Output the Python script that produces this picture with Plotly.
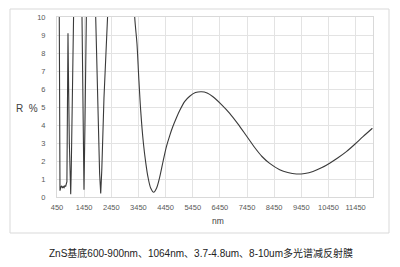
import plotly.graph_objects as go

# wavelength (nm) and reflectance (%)
wavelength = [480, 525, 545, 560, 590, 620, 650, 680, 710, 740, 770, 800, 815, 835, 855, 870, 905, 935, 955,
              975, 1010, 1065, 1100, 1250, 1371, 1410, 1444, 1480, 1533, 1700, 1875, 1960, 2020, 2060, 2100,
              2180, 2269, 2500, 2900, 3200, 3312, 3397, 3459, 3533, 3632, 3720, 3802, 3900, 4012, 4120, 4233,
              4360, 4480, 4600, 4714, 4850, 4969, 5150, 5338, 5550, 5769, 5980, 6196, 6500, 6811, 7120, 7426,
              7732, 8000, 8284, 8652, 8950, 9268, 9580, 9879, 10190, 10494, 10800, 11109, 11420, 11721, 12067]
reflectance = [30, 10.5, 2, 0.35, 0.55, 0.62, 0.5, 0.58, 0.52, 0.62, 0.6, 0.78, 0.85, 5, 9.1, 7, 3, 0.6, 0.15,
               1.5, 5.5, 10.5, 25, 30, 10, 4, 0.4, 4, 10, 30, 10, 4.5, 1.3, 0.2, 1.5,
               5.5, 10, 30, 30, 15, 10, 8.5, 6.7, 4.8, 3.0, 1.9, 1.1, 0.5, 0.26, 0.5, 1.1,
               2.0, 2.8, 3.4, 3.9, 4.4, 4.8, 5.3, 5.6, 5.8, 5.85, 5.78, 5.57, 5.15, 4.65, 4.05, 3.4,
               2.75, 2.25, 1.87, 1.52, 1.36, 1.28, 1.31, 1.42, 1.62, 1.88, 2.18, 2.52, 2.93, 3.35, 3.82]

x_ticks = [450, 1450, 2450, 3450, 4450, 5450, 6450, 7450, 8450, 9450, 10450, 11450]
y_ticks = [0, 1, 2, 3, 4, 5, 6, 7, 8, 9, 10]

caption = "ZnS基底600-900nm、1064nm、3.7-4.8um、8-10um多光谱减反射膜"

W, H = 400, 267
L, R, T, B = 57, 27, 17, 70
pw, ph = W - L - R, H - T - B

# split: sharp narrow-band part drawn linear, broad IR part drawn smooth
split = wavelength.index(3200)

fig = go.Figure()
fig.add_trace(go.Scatter(x=wavelength[:split + 1], y=reflectance[:split + 1], mode="lines",
                         line=dict(color="#3a3a3a", width=1.1), hoverinfo="skip"))
fig.add_trace(go.Scatter(x=wavelength[split:], y=reflectance[split:], mode="lines",
                         line=dict(color="#3a3a3a", width=1.1, shape="spline", smoothing=0.8),
                         hoverinfo="skip"))

grid = "#e3e3e3"
fig.update_layout(
    width=W, height=H, margin=dict(l=L, r=R, t=T, b=B),
    paper_bgcolor="white", plot_bgcolor="white", showlegend=False,
    font=dict(family="Liberation Sans, Arial, sans-serif", color="#595959"),
    xaxis=dict(range=[450, 12090], tickvals=x_ticks, ticktext=[str(v) for v in x_ticks],
               showgrid=True, gridcolor=grid, gridwidth=1, zeroline=False,
               showline=True, linecolor="#d9d9d9", linewidth=1, mirror=True,
               ticks="", tickfont=dict(size=7.5, color="#595959"), ticklabelstandoff=3),
    yaxis=dict(range=[0, 10], tickvals=y_ticks,
               showgrid=True, gridcolor=grid, gridwidth=1, zeroline=False,
               showline=True, linecolor="#d9d9d9", linewidth=1, mirror=True,
               ticks="", tickfont=dict(size=7.5, color="#595959"), ticklabelstandoff=9),
)

def px(xp):
    return (xp - L) / pw

def py(yp):
    return (H - B - yp) / ph

# outer chart frame
fig.add_shape(type="rect", xref="paper", yref="paper",
              x0=px(10), x1=px(389), y0=py(233), y1=py(9),
              line=dict(color="#d9d9d9", width=1), fillcolor="rgba(0,0,0,0)", layer="below")

fig.add_annotation(text="R  %", xref="paper", yref="paper", x=px(27), y=py(108),
                   showarrow=False, font=dict(size=10, color="#404040"), xanchor="center", yanchor="middle")
fig.add_annotation(text="nm", xref="paper", yref="paper", x=px(218), y=py(221),
                   showarrow=False, font=dict(size=8.5, color="#404040"), xanchor="center", yanchor="middle")
fig.add_annotation(text=caption, xref="paper", yref="paper", x=px(201), y=py(253),
                   showarrow=False, font=dict(size=10, color="#222222",
                                              family="Liberation Sans, Noto Sans CJK SC, sans-serif"),
                   xanchor="center", yanchor="middle")

fig.write_html("out.html")
